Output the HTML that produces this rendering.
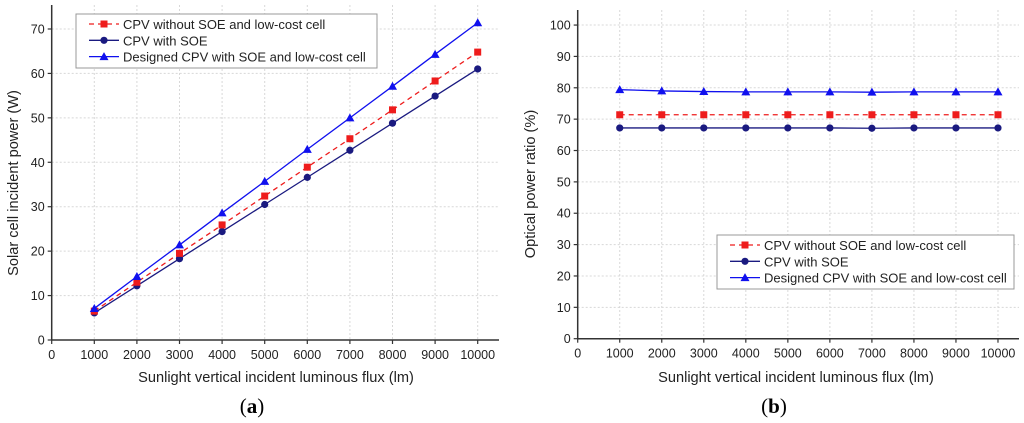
<!DOCTYPE html>
<html><head><meta charset="utf-8">
<style>
html,body{margin:0;padding:0;background:#fff;}
svg{display:block;font-family:"Liberation Sans",Arial,sans-serif;}
</style></head>
<body>
<svg id="chart" width="1024" height="423" viewBox="0 0 1024 423" xmlns="http://www.w3.org/2000/svg"></svg>
<script>
const xCategories = [1000,2000,3000,4000,5000,6000,7000,8000,9000,10000];
const xTickLabels = [0,1000,2000,3000,4000,5000,6000,7000,8000,9000,10000];
const aRed   = [6.5,13.0,19.5,25.9,32.4,38.9,45.3,51.8,58.3,64.8];
const aNavy  = [6.1,12.2,18.3,24.4,30.5,36.6,42.7,48.8,54.9,61.0];
const aBlue  = [7.1,14.3,21.4,28.6,35.7,42.9,50.0,57.1,64.3,71.4];
const aYTicks = [0,10,20,30,40,50,60,70];
const bRed   = [71.4,71.4,71.4,71.4,71.4,71.4,71.4,71.4,71.4,71.4];
const bNavy  = [67.2,67.2,67.2,67.2,67.2,67.2,67.1,67.2,67.2,67.2];
const bBlue  = [79.4,79.0,78.8,78.7,78.7,78.7,78.6,78.7,78.7,78.7];
const bYTicks = [0,10,20,30,40,50,60,70,80,90,100];
const seriesNames = ["CPV without SOE and low-cost cell","CPV with SOE","Designed CPV with SOE and low-cost cell"];

const NS="http://www.w3.org/2000/svg";
const svg=document.getElementById('chart');
function mk(tag,attrs,parent){const e=document.createElementNS(NS,tag);for(const k in attrs)e.setAttribute(k,attrs[k]);(parent||svg).appendChild(e);return e;}

function panel(cfg){
  const g=mk('g',{});
  
  
  const X=v=>cfg.x0+(v/10500)*(cfg.x1-cfg.x0);
  const Y=v=>cfg.y0-(v/cfg.ymax)*(cfg.y0-cfg.y1);
  xTickLabels.forEach(v=>{ if(v>0){const l=mk('line',{x1:X(v),x2:X(v),y1:cfg.y1,y2:cfg.y0,stroke:'#d8d8d8','stroke-width':1,'stroke-dasharray':'2,2'},g);
    }});
  cfg.yticks.forEach(v=>{ if(v>0){const l=mk('line',{x1:cfg.x0,x2:cfg.x1,y1:Y(v),y2:Y(v),stroke:'#d8d8d8','stroke-width':1,'stroke-dasharray':'2,2'},g);
    }});
  const ax=mk('line',{x1:cfg.x0,x2:cfg.x1,y1:cfg.y0,y2:cfg.y0,stroke:'#333','stroke-width':1.5},g);
  
  const ay=mk('line',{x1:cfg.x0,x2:cfg.x0,y1:cfg.y1,y2:cfg.y0,stroke:'#333','stroke-width':1.5},g);
  
  xTickLabels.forEach(v=>{
    mk('line',{x1:X(v),x2:X(v),y1:cfg.y0,y2:cfg.y0+4,stroke:'#333','stroke-width':1.2},g);
    const t=mk('text',{x:X(v),y:cfg.y0+19,'font-size':12.5,'text-anchor':'middle',fill:'#222'},g);
    t.textContent=v;
    
  });
  cfg.yticks.forEach(v=>{
    mk('line',{x1:cfg.x0-4,x2:cfg.x0,y1:Y(v),y2:Y(v),stroke:'#333','stroke-width':1.2},g);
    const t=mk('text',{x:cfg.x0-7,y:Y(v)+4.5,'font-size':12.5,'text-anchor':'end',fill:'#222'},g);
    t.textContent=v;
    
  });
  const xt=mk('text',{x:cfg.xtx,y:382,'font-size':14.6,'text-anchor':'middle',fill:'#222'},g);
  xt.textContent='Sunlight vertical incident luminous flux (lm)';
  
  const yt=mk('text',{x:0,y:0,'font-size':14.6,'text-anchor':'middle',fill:'#222',transform:`translate(${cfg.ytx},${cfg.yty}) rotate(-90)`},g);
  yt.textContent=cfg.ytitle;
  
  const cap=mk('text',{x:cfg.capx,y:413,'font-size':21,'text-anchor':'middle',fill:'#000','font-family':'"Liberation Serif",serif'},g);
  cap.innerHTML='(<tspan font-weight="bold">'+cfg.cap+'</tspan>)';
  
  const specs=[
    {d:cfg.navy,c:'#1a1a80',dash:'',m:'circle',n:'series-cpv-with-soe'},
    {d:cfg.red,c:'#ee1c1c',dash:'5,4',m:'square',n:'series-cpv-without-soe'},
    {d:cfg.blue,c:'#1010ee',dash:'',m:'triangle',n:'series-designed-cpv'}];
  specs.forEach(s=>{
    const sg=mk('g',{},g);
    
    const pts=s.d.map((v,i)=>X(xCategories[i])+','+Y(v)).join(' ');
    const pl=mk('polyline',{points:pts,fill:'none',stroke:s.c,'stroke-width':1.3,'stroke-dasharray':s.dash},sg);
    
    s.d.forEach((v,i)=>{const m=marker(s.m,X(xCategories[i]),Y(v),s.c,sg);
      });
  });
  const lg=mk('g',{},g);
  
  mk('rect',{x:cfg.lx,y:cfg.ly,width:cfg.lw,height:54,fill:'#fff',stroke:'#999','stroke-width':1},lg);
  const lspecs=[{c:'#ee1c1c',dash:'5,4',m:'square'},{c:'#1a1a80',dash:'',m:'circle'},{c:'#1010ee',dash:'',m:'triangle'}];
  lspecs.forEach((s,i)=>{
    const e=mk('g',{},lg);
    
    const yy=cfg.ly+10+i*16.3;
    mk('line',{x1:cfg.lx+13,x2:cfg.lx+43,y1:yy,y2:yy,stroke:s.c,'stroke-width':1.3,'stroke-dasharray':s.dash},e);
    marker(s.m,cfg.lx+28,yy,s.c,e);
    const t=mk('text',{x:cfg.lx+47,y:yy+5,'font-size':13,fill:'#222'},e);
    t.textContent=seriesNames[i];
  });
}
function marker(type,x,y,c,p){
  if(type==='circle') return mk('circle',{cx:x,cy:y,r:3.6,fill:c},p);
  if(type==='square') return mk('rect',{x:x-3.5,y:y-3.5,width:7,height:7,fill:c},p);
  return mk('polygon',{points:`${x},${y-4.5} ${x-4.5},${y+3.5} ${x+4.5},${y+3.5}`,fill:c},p);
}
panel({name:'panel-a',x0:51.7,x1:499,y0:340,y1:5,ymax:75.4,yticks:aYTicks,red:aRed,navy:aNavy,blue:aBlue,
  ytitle:'Solar cell incident power (W)',ytx:18,yty:183,xtx:276,capx:252,cap:'a',lx:76,ly:14,lw:301});
panel({name:'panel-b',x0:577.7,x1:1019,y0:338.7,y1:10,ymax:104.8,yticks:bYTicks,red:bRed,navy:bNavy,blue:bBlue,
  ytitle:'Optical power ratio (%)',ytx:535,yty:184,xtx:796,capx:774,cap:'b',lx:717,ly:235,lw:297});
</script>
</body></html>
